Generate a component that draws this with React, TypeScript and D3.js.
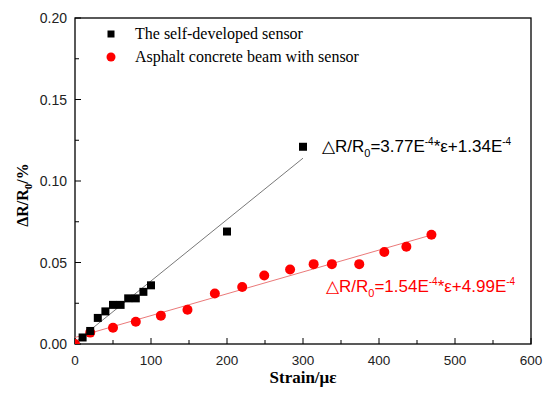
import React from 'react';
import * as d3 from 'd3';

// self-developed sensor (black squares)
const sensorStrain = [10, 20, 30, 40, 50, 60, 70, 80, 90, 100, 200, 300];
const sensorDR = [0.004, 0.008, 0.016, 0.020, 0.024, 0.024, 0.028, 0.028, 0.032, 0.036, 0.069, 0.121];

// asphalt concrete beam with sensor (red circles)
const beamStrain = [0, 20, 50, 80, 113, 148, 184, 220, 249, 283, 314, 338, 374, 407, 436, 469];
const beamDR = [0.0, 0.007, 0.010, 0.0136, 0.0174, 0.021, 0.031, 0.035, 0.042, 0.0457, 0.049, 0.049, 0.049, 0.0564, 0.0597, 0.067];

// fitted lines, end points
const sensorFitX = [0, 300];
const sensorFitY = [0.001, 0.114];
const beamFitX = [0, 470];
const beamFitY = [0.004, 0.067];

const xTicks = [0, 100, 200, 300, 400, 500, 600];
const yTicks = [0, 0.05, 0.1, 0.15, 0.2];

const App = () => {
  const svgRef = React.useRef<SVGSVGElement>(null);

  React.useEffect(() => {
    const svg = d3.select(svgRef.current);
    svg.selectAll('*').remove();

    const left = 75, right = 531, top = 18, bottom = 344;
    const x = d3.scaleLinear().domain([0, 600]).range([left, right]);
    const y = d3.scaleLinear().domain([0, 0.2]).range([bottom, top]);
    const sans = 'Liberation Sans, Arial, sans-serif';
    const serif = 'Liberation Serif, Times New Roman, serif';

    // frame
    svg.append('rect')
      .attr('x', left).attr('y', top)
      .attr('width', right - left).attr('height', bottom - top)
      .attr('fill', 'none').attr('stroke', '#000').attr('stroke-width', 1.3);

    // x ticks (inward)
    const xAx = svg.append('g');
    d3.range(0, 601, 50).forEach(v => {
      const major = v % 100 === 0;
      xAx.append('line')
        .attr('x1', x(v)).attr('x2', x(v))
        .attr('y1', bottom).attr('y2', bottom - (major ? 6 : 4))
        .attr('stroke', '#000').attr('stroke-width', 1);
    });
    xAx.selectAll('text').data(xTicks).join('text')
      .attr('x', d => x(d)).attr('y', bottom + 21)
      .attr('text-anchor', 'middle')
      .style('font-family', sans)
      .style('font-size', '13.5px').attr('fill', '#222')
      .text(d => d);

    // y ticks (inward)
    const yAx = svg.append('g');
    d3.range(0, 9).map(i => i * 0.025).forEach((v, i) => {
      const major = i % 2 === 0;
      yAx.append('line')
        .attr('x1', left).attr('x2', left + (major ? 6 : 4))
        .attr('y1', y(v)).attr('y2', y(v))
        .attr('stroke', '#000').attr('stroke-width', 1);
    });
    yAx.selectAll('text').data(yTicks).join('text')
      .attr('x', left - 8).attr('y', d => y(d) + 5)
      .attr('text-anchor', 'end')
      .style('font-family', sans)
      .style('font-size', '14px').attr('fill', '#222')
      .text(d => d.toFixed(2));

    // fit lines
    const line = d3.line<number>().x(d => x(d[0])).y(d => y(d[1]));
    svg.append('path')
      .attr('d', line(sensorFitX.map((v, i) => [v, sensorFitY[i]])))
      .attr('stroke', '#555').attr('stroke-width', 0.8).attr('fill', 'none');
    svg.append('path')
      .attr('d', line(beamFitX.map((v, i) => [v, beamFitY[i]])))
      .attr('stroke', '#e86a6a').attr('stroke-width', 0.9).attr('fill', 'none');

    // points
    const clip = svg.append('clipPath').attr('id', 'plotclip');
    clip.append('rect').attr('x', left).attr('y', top).attr('width', right - left).attr('height', bottom - top);

    svg.append('g').attr('clip-path', 'url(#plotclip)')
      .selectAll('circle').data(beamStrain).join('circle')
      .attr('cx', d => x(d)).attr('cy', (d, i) => y(beamDR[i]))
      .attr('r', 5).attr('fill', '#ff0000');

    const sz = 8;
    svg.append('g')
      .selectAll('rect').data(sensorStrain).join('rect')
      .attr('x', d => x(d) - sz / 2).attr('y', (d, i) => y(sensorDR[i]) - sz / 2)
      .attr('width', sz).attr('height', sz).attr('fill', '#000');

    // legend
    svg.append('rect').attr('x', 111 - 3.5).attr('y', 34 - 3.5).attr('width', 7).attr('height', 7).attr('fill', '#000');
    svg.append('circle').attr('cx', 111).attr('cy', 57).attr('r', 4.5).attr('fill', '#ff0000');
    svg.append('text').attr('x', 135).attr('y', 39)
      .style('font-family', serif).style('font-size', '16px').text('The self-developed sensor');
    svg.append('text').attr('x', 135).attr('y', 62)
      .style('font-family', serif).style('font-size', '16px').text('Asphalt concrete beam with sensor');

    // equations
    const eq = (xp: number, yp: number, color: string, a: string, b: string) => {
      const t = svg.append('text').attr('x', xp).attr('y', yp).attr('fill', color)
        .style('font-family', sans).style('font-size', '17px');
      t.append('tspan').text('\u25B3R/R');
      t.append('tspan').attr('dy', 5).style('font-size', '11px').text('0');
      t.append('tspan').attr('dy', -5).text(`=${a}E`);
      t.append('tspan').attr('dy', -7).style('font-size', '10px').text('-4');
      t.append('tspan').attr('dy', 7).text('*\u03B5+' + b + 'E');
      t.append('tspan').attr('dy', -7).style('font-size', '10px').text('-4');
    };
    eq(322, 152, '#000', '3.77', '1.34');
    eq(326, 292, '#ff0000', '1.54', '4.99');

    // axis titles
    svg.append('text').attr('x', (left + right) / 2).attr('y', 383)
      .attr('text-anchor', 'middle')
      .style('font-family', serif).style('font-size', '17px').style('font-weight', 'bold')
      .text('Strain/\u03BC\u03B5');

    const yl = svg.append('text')
      .attr('transform', `translate(28,195) rotate(-90)`)
      .attr('text-anchor', 'middle')
      .style('font-family', serif).style('font-size', '16px').style('font-weight', 'bold');
    yl.append('tspan').text('\u0394R/R');
    yl.append('tspan').attr('dy', 4).style('font-size', '11px').text('0');
    yl.append('tspan').attr('dy', -4).text('/%');
  }, []);

  return <svg ref={svgRef} width={550} height={398} style={{ display: 'block', position: 'absolute', left: 0, top: 0, background: '#fff' }} />;
};

export default App;
